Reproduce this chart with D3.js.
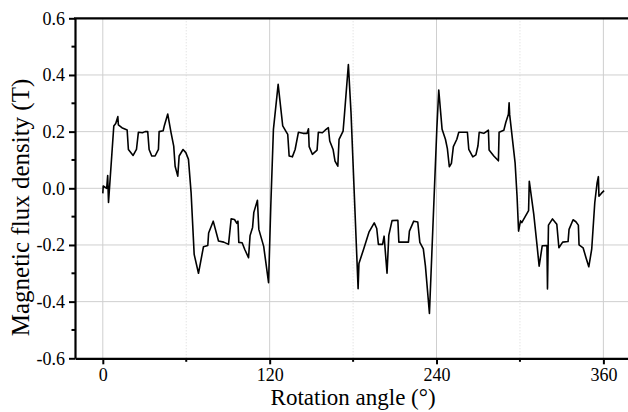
<!DOCTYPE html>
<html>
<head>
<meta charset="utf-8">
<script src="https://cdn.jsdelivr.net/npm/d3@7"></script>
<style>
  body { margin: 0; background: #fff; }
  text { font-family: "Liberation Serif", "Times New Roman", serif; }
</style>
</head>
<body>
<div id="canvas"></div>
<script>
var w = 628;
var h = 412;

// rotation angle (deg) and flux density (T)
var angle = [0, 0.3, 2.8, 3.5, 4.1, 6.5, 7.9, 9.3, 10.8, 11.2, 13.7, 17.5, 18.4, 21.8, 24.2, 25.6, 28.5, 30.4, 32.3, 33.3,
  35.2, 37.6, 40, 40.5, 43.4, 44.3, 46.7, 49.1, 51, 52, 53.9, 54.9, 57.7, 59.7, 61.6, 63.5, 65.7, 68.8, 72.4, 75.5,
  76.1, 79.4, 83.2, 87, 90.4, 92.3, 94.7, 96.4, 97.2, 97.8, 100.2, 102.1, 104.8, 105.9, 107.7, 108.6, 111.2, 112.2, 115.7, 119.2,
  120.8, 122.7, 126.1, 129.4, 131.8, 133, 134, 136.3, 138.3, 140.7, 144, 146.9, 147.9, 148.4, 150.7, 154.1, 155, 157.9, 159.9, 162.2,
  163.2, 165.6, 167, 169, 169.9, 172.8, 173.7, 176.6, 178.5, 183.6, 184.2, 187.5, 191.4, 195.2, 197, 198.2, 201.2, 202.3, 204.4, 205.7,
  208, 212.2, 212.9, 219.8, 220.5, 223.6, 226.5, 228, 230.5, 232, 234.9, 240.2, 241.6, 244, 246.4, 247.8, 249.2, 250.7, 252.1, 254.6,
  256, 262.2, 263.2, 266.1, 268.3, 269.8, 270.7, 274, 277.3, 277.8, 281.2, 284.5, 285, 288.4, 289.8, 291.7, 292.2, 292.6, 296.5, 297.9,
  299, 300.4, 301.3, 306.2, 306.7, 309.9, 312.4, 313.8, 316, 319.4, 319.8, 320.5, 323.4, 326.5, 328, 330.7, 334.6, 335.3, 338.2, 340.2,
  342, 342.5, 345.4, 347.5, 349.5, 351.6, 353.8, 355.5, 356.4, 356.8, 358.5, 360.5];
var flux = [-0.018, 0.008, 0.0, 0.045, -0.05, 0.12, 0.22, 0.229, 0.253, 0.224, 0.214, 0.206, 0.137, 0.116, 0.137, 0.198, 0.196, 0.2, 0.2, 0.137,
  0.114, 0.114, 0.137, 0.2, 0.203, 0.222, 0.262, 0.196, 0.149, 0.078, 0.043, 0.114, 0.137, 0.126, 0.102, -0.016, -0.233, -0.3, -0.206, -0.202,
  -0.158, -0.116, -0.186, -0.19, -0.198, -0.108, -0.11, -0.124, -0.116, -0.191, -0.192, -0.216, -0.245, -0.167, -0.138, -0.085, -0.042, -0.145, -0.205, -0.333,
  -0.063, 0.208, 0.367, 0.22, 0.2, 0.19, 0.114, 0.111, 0.137, 0.198, 0.194, 0.194, 0.21, 0.147, 0.12, 0.135, 0.198, 0.196, 0.205, 0.214,
  0.167, 0.137, 0.096, 0.078, 0.173, 0.202, 0.255, 0.437, 0.267, -0.354, -0.265, -0.216, -0.155, -0.122, -0.142, -0.198, -0.198, -0.169, -0.3, -0.165,
  -0.114, -0.113, -0.19, -0.19, -0.151, -0.116, -0.119, -0.191, -0.214, -0.274, -0.442, 0.208, 0.347, 0.208, 0.173, 0.14, 0.076, 0.088, 0.147, 0.173,
  0.198, 0.198, 0.137, 0.111, 0.118, 0.15, 0.198, 0.194, 0.205, 0.135, 0.114, 0.097, 0.198, 0.205, 0.232, 0.261, 0.302, 0.26, 0.09, -0.027,
  -0.151, -0.115, -0.121, -0.079, 0.025, -0.09, -0.207, -0.275, -0.203, -0.202, -0.355, -0.13, -0.108, -0.127, -0.21, -0.19, -0.188, -0.145, -0.111, -0.118,
  -0.13, -0.2, -0.21, -0.245, -0.277, -0.215, -0.051, 0.02, 0.041, -0.028, -0.018, -0.008];

var xMajor = [0, 120, 240, 360];
var xMinor = [60, 180, 300];
var yMajor = [-0.6, -0.4, -0.2, 0.0, 0.2, 0.4, 0.6];
var yMinor = [-0.5, -0.3, -0.1, 0.1, 0.3, 0.5];

// plot box (window.top is reserved, so not "top")
var padL = 75, padT = 18.3, padB = 358.3, padR = 631.2;

var svg = d3.select("#canvas").append("svg")
    .attr("width", w)
    .attr("height", h)
    .style("background-color", "white");

var xScale = d3.scaleLinear().domain([-20, 380]).range([padL, padR]);
var yScale = d3.scaleLinear().domain([-0.6, 0.6]).range([padB, padT]);

// grid
svg.selectAll(".gx").data(xMajor).enter().append("line")
    .attr("x1", d => xScale(d)).attr("x2", d => xScale(d))
    .attr("y1", padT).attr("y2", padB)
    .attr("stroke", "#cfcfcf").attr("stroke-width", 1);
svg.selectAll(".gxm").data(xMinor).enter().append("line")
    .attr("x1", d => xScale(d)).attr("x2", d => xScale(d))
    .attr("y1", padT).attr("y2", padB)
    .attr("stroke", "#d8d8d8").attr("stroke-width", 1)
    .attr("stroke-dasharray", "1,2");
svg.selectAll(".gy").data(yMajor.filter(d => Math.abs(d) < 0.59)).enter().append("line")
    .attr("x1", padL).attr("x2", w)
    .attr("y1", d => yScale(d)).attr("y2", d => yScale(d))
    .attr("stroke", "#cfcfcf").attr("stroke-width", 1);

// data line
var pts = angle.map((a, i) => [a, flux[i]]);
var line = d3.line().x(d => xScale(d[0])).y(d => yScale(d[1]));
svg.append("path")
    .datum(pts)
    .attr("d", line)
    .attr("fill", "none")
    .attr("stroke", "black")
    .attr("stroke-width", 1.6)
    .attr("stroke-linejoin", "round");

// axes
var xAxis = d3.axisBottom(xScale).tickValues(xMajor).tickSize(6).tickSizeOuter(0).tickPadding(4);
var gx = svg.append("g").attr("transform", `translate(0,${padB})`).call(xAxis);
gx.select(".domain").attr("stroke-width", 2.2);
gx.selectAll(".tick line").attr("stroke-width", 2);
gx.selectAll("text").style("font-size", "18px").attr("fill", "black");
gx.selectAll(".minor").data(xMinor).enter().append("line")
    .attr("x1", d => xScale(d)).attr("x2", d => xScale(d))
    .attr("y1", 0).attr("y2", 3.5)
    .attr("stroke", "black").attr("stroke-width", 2);

// plain hyphen for negatives, like the original
var fmt = d => d.toFixed(1);
var yAxis = d3.axisLeft(yScale).tickValues(yMajor).tickFormat(fmt).tickSize(6).tickSizeOuter(0).tickPadding(4);
var gy = svg.append("g").attr("transform", `translate(${padL},0)`).call(yAxis);
gy.select(".domain").attr("stroke-width", 2.2);
gy.selectAll(".tick line").attr("stroke-width", 2);
gy.selectAll("text").style("font-size", "18px").attr("fill", "black");
gy.selectAll(".minor").data(yMinor).enter().append("line")
    .attr("x1", 0).attr("x2", -3.5)
    .attr("y1", d => yScale(d)).attr("y2", d => yScale(d))
    .attr("stroke", "black").attr("stroke-width", 2);

// top border
svg.append("line")
    .attr("x1", padL - 1).attr("x2", w)
    .attr("y1", padT).attr("y2", padT)
    .attr("stroke", "black").attr("stroke-width", 2.2);

// titles
svg.append("text")
    .attr("x", (padL + padR) / 2).attr("y", 405)
    .attr("text-anchor", "middle")
    .style("font-size", "23px")
    .text("Rotation angle (°)");
svg.append("text")
    .attr("transform", "translate(29,207.5) rotate(-90)")
    .attr("text-anchor", "middle")
    .style("font-size", "25px")
    .text("Magnetic flux density (T)");
</script>
</body>
</html>
